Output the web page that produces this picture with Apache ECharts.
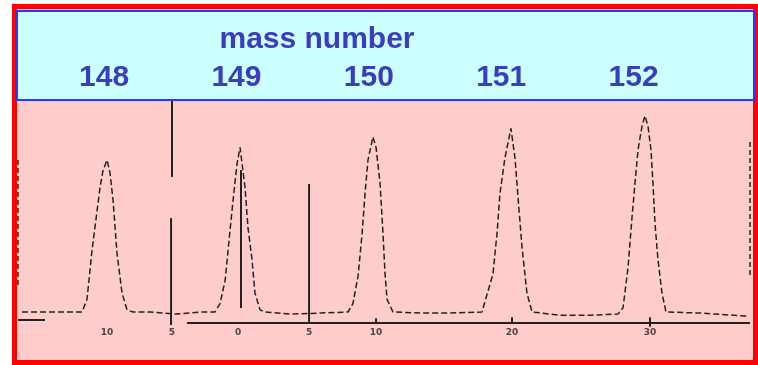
<!DOCTYPE html>
<html>
<head>
<meta charset="utf-8">
<script src="https://cdn.jsdelivr.net/npm/echarts@6/dist/echarts.min.js"></script>
<style>
  body { margin: 0; background: #fff; }
  #scan { width: 758px; height: 365px; }
</style>
</head>
<body>
<div id="scan"></div>
<script>
// mass numbers shown in the header
var massLabels = [148, 149, 150, 151, 152];

// recorder trace: [mass number, intensity]
var trace = [
    [147.367, 0], [147.814, 0],
    [147.851, 6], [147.888, 29], [147.926, 48], [147.948, 59], [147.970, 67], [148.000, 72],
    [148.022, 66], [148.045, 53], [148.074, 28], [148.112, 9], [148.149, 1], [148.194, 0],
    [148.320, 0], [148.507, -1], [148.693, 0], [148.804, 0],
    [148.842, 4], [148.880, 15], [148.909, 34], [148.939, 53], [148.968, 70], [148.991, 78],
    [149.028, 59], [149.050, 40], [149.080, 25], [149.102, 9], [149.140, 1], [149.177, 0],
    [149.363, -1], [149.587, -0.5], [149.795, 0],
    [149.832, 4], [149.870, 17], [149.900, 37], [149.922, 56], [149.944, 72], [149.981, 83],
    [150.004, 78], [150.034, 61], [150.056, 37], [150.071, 18], [150.086, 6], [150.130, 0],
    [150.332, -0.5], [150.555, -0.5], [150.793, 0],
    [150.875, 18], [150.905, 37], [150.927, 56], [150.964, 73], [151.009, 87],
    [151.039, 73], [151.061, 55], [151.091, 31], [151.128, 9], [151.166, 0],
    [151.374, -1.5], [151.598, -1.5], [151.806, -1],
    [151.844, 2], [151.881, 21], [151.911, 45], [151.933, 61], [151.956, 77], [151.985, 88], [152.007, 93],
    [152.030, 88], [152.052, 77], [152.067, 61], [152.082, 42], [152.104, 25], [152.134, 9], [152.164, 0],
    [152.417, -0.5], [152.775, -2]
];

// marker lines on the scan: [x1, y1, x2, y2]
var solidMarks = [
    [148.484, 64, 148.484, 100],
    [148.477, -6.2, 148.477, 44.5],
    [148.998, 1.9, 148.998, 67.3],
    [149.505, -4.7, 149.505, 60.7],
    [147.337, -3.8, 147.538, -3.8],
    [148.596, -5.2, 152.790, -5.2],
    [150.004, -5.2, 150.004, -3],
    [151.017, -5.2, 151.017, -2.5],
    [152.045, -7, 152.045, -2.5]
];
var dashedMarks = [
    [147.337, 12.8, 147.337, 73],
    [152.790, 17.5, 152.790, 81.5]
];

// scale numbers printed under the scan
var scaleTicks = [148.0, 148.484, 148.976, 149.505, 150.004, 151.017, 152.045];
var scaleText = ['10', '5', '0', '5', '10', '20', '30'];

function segment(api, width, dash) {
    var p1 = api.coord([api.value(0), api.value(1)]);
    var p2 = api.coord([api.value(2), api.value(3)]);
    return {
        type: 'line',
        shape: { x1: p1[0], y1: p1[1], x2: p2[0], y2: p2[1] },
        style: { stroke: '#222', lineWidth: width, lineDash: dash }
    };
}

var chart = echarts.init(document.getElementById('scan'));
chart.setOption({
    animation: false,
    backgroundColor: '#fff',
    title: {
        text: 'mass number',
        left: 312,
        textAlign: 'center',
        top: 20,
        textStyle: { color: '#3c3cbe', fontSize: 30, fontWeight: 'bold', fontFamily: 'Liberation Sans' }
    },
    graphic: [
        { type: 'rect', z: -10, shape: { x: 14.5, y: 6.5, width: 741, height: 356 },
          style: { fill: '#ffcccc', stroke: '#ff0000', lineWidth: 5 } },
        { type: 'rect', z: -9, shape: { x: 17, y: 11, width: 737, height: 89 },
          style: { fill: '#ccffff', stroke: '#3333ff', lineWidth: 2 } }
    ],
    grid: { left: 16, right: 3, top: 101, bottom: 5 },
    xAxis: [{
        type: 'value', min: 147.322, max: 152.827,
        axisLine: { show: false }, axisTick: { show: false },
        axisLabel: { show: false }, splitLine: { show: false }
    }, {
        type: 'value', position: 'top', min: 147.335, max: 152.917,
        axisLine: { show: false }, axisTick: { show: false }, splitLine: { show: false },
        axisLabel: {
            customValues: massLabels, margin: 8,
            color: '#3c3cbe', fontSize: 30, fontWeight: 'bold', fontFamily: 'Liberation Sans'
        }
    }],
    yAxis: {
        type: 'value', min: -22.75, max: 100, show: false
    },
    series: [{
        type: 'line',
        data: trace,
        symbol: 'none',
        lineStyle: { color: '#222', width: 1.5, type: [6, 3] }
    }, {
        type: 'custom',
        renderItem: function (params, api) { return segment(api, 2, null); },
        data: solidMarks,
        encode: { x: [0, 2], y: [1, 3] },
        silent: true
    }, {
        type: 'custom',
        renderItem: function (params, api) { return segment(api, 1.5, [5, 3]); },
        data: dashedMarks,
        encode: { x: [0, 2], y: [1, 3] },
        silent: true
    }, {
        type: 'scatter',
        symbolSize: 0,
        data: scaleTicks.map(function (x, i) { return { value: [x, -10], name: scaleText[i] }; }),
        label: {
            show: true, position: 'inside', formatter: '{b}',
            color: '#222', fontSize: 9, fontWeight: 'bold', fontFamily: 'DejaVu Sans'
        },
        silent: true
    }]
});
</script>
</body>
</html>
